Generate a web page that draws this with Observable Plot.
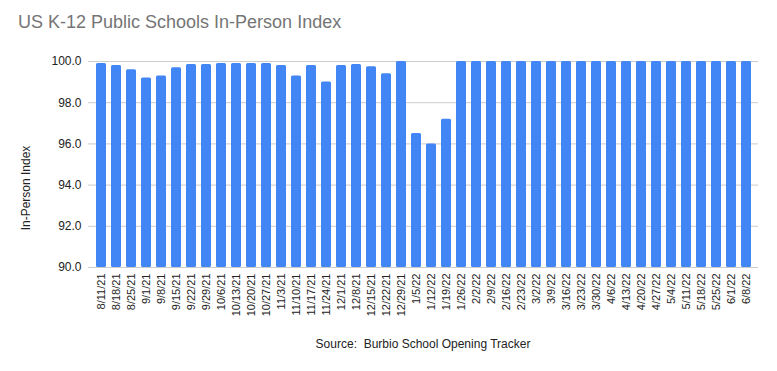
<!DOCTYPE html>
<html>
<head>
<meta charset="utf-8">
<script src="https://cdn.jsdelivr.net/npm/d3@7"></script>
<script src="https://cdn.jsdelivr.net/npm/@observablehq/plot@0.6"></script>
<style>
  html, body { margin: 0; padding: 0; background: #fff; }
  #wrap { position: relative; width: 777px; height: 371px; font-family: "Liberation Sans", Arial, sans-serif; }
  #title { position: absolute; left: 18px; top: 13px; font-size: 18px; line-height: 18px; color: #757575; white-space: pre; }
  #caption { position: absolute; left: 0; width: 846px; top: 338px; text-align: center; font-size: 12px; line-height: 12px; color: #222; white-space: pre; }
  #ylab { position: absolute; left: 26px; top: 188px; width: 0; height: 0; }
  #ylab span { position: absolute; left: 0; top: 0; font-size: 12px; line-height: 12px; color: #222; white-space: pre; transform: translate(-50%, -50%) rotate(-90deg); }
  #chart { position: absolute; left: 0; top: 0; }
</style>
</head>
<body>
<div id="wrap">
  <div id="chart"></div>
  <div id="title">US K-12 Public Schools In-Person Index</div>
  <div id="ylab"><span id="ylabtext"></span></div>
  <div id="caption">Source:  Burbio School Opening Tracker</div>
</div>
<script>
const dates = [
  "8/11/21","8/18/21","8/25/21","9/1/21","9/8/21","9/15/21","9/22/21","9/29/21",
  "10/6/21","10/13/21","10/20/21","10/27/21","11/3/21","11/10/21","11/17/21","11/24/21",
  "12/1/21","12/8/21","12/15/21","12/22/21","12/29/21","1/5/22","1/12/22","1/19/22",
  "1/26/22","2/2/22","2/9/22","2/16/22","2/23/22","3/2/22","3/9/22","3/16/22",
  "3/23/22","3/30/22","4/6/22","4/13/22","4/20/22","4/27/22","5/4/22","5/11/22",
  "5/18/22","5/25/22","6/1/22","6/8/22"
];
const values = [
  99.9, 99.8, 99.6, 99.2, 99.3, 99.7, 99.85, 99.85,
  99.9, 99.9, 99.9, 99.9, 99.8, 99.3, 99.8, 99.0,
  99.8, 99.85, 99.75, 99.4, 100.0, 96.5, 96.0, 97.2,
  100.0, 100.0, 100.0, 100.0, 100.0, 100.0, 100.0, 100.0,
  100.0, 100.0, 100.0, 100.0, 100.0, 100.0, 100.0, 100.0,
  100.0, 100.0, 100.0, 100.0
];
const yTicks = [90, 92, 94, 96, 98, 100];
const yDomain = [90, 100];
const yLabel = "In-Person Index";

document.getElementById("ylabtext").textContent = yLabel;

const data = dates.map((d, i) => ({date: d, value: values[i]}));

const chart = Plot.plot({
  width: 777,
  height: 371,
  marginTop: 61,
  marginBottom: 104,
  marginLeft: 88,
  marginRight: 19,
  style: {fontFamily: "'Liberation Sans', Arial, sans-serif", color: "#222", background: "transparent"},
  x: {domain: dates, padding: 0.34, label: null},
  y: {domain: yDomain, ticks: yTicks, label: null},
  marks: [
    Plot.ruleY(yTicks, {stroke: "#cccccc", strokeWidth: 1}),
    Plot.barY(data, {x: "date", y1: yDomain[0], y2: "value", fill: "#4285F4", rx: 1.5}),
    Plot.axisY({ticks: yTicks, tickFormat: d3.format(".1f"), tickSize: 0, tickPadding: 7, fontSize: 12, label: null}),
    Plot.axisX({tickRotate: -90, tickSize: 0, tickPadding: 6, fontSize: 11, label: null})
  ]
});
document.getElementById("chart").appendChild(chart);
</script>
</body>
</html>
